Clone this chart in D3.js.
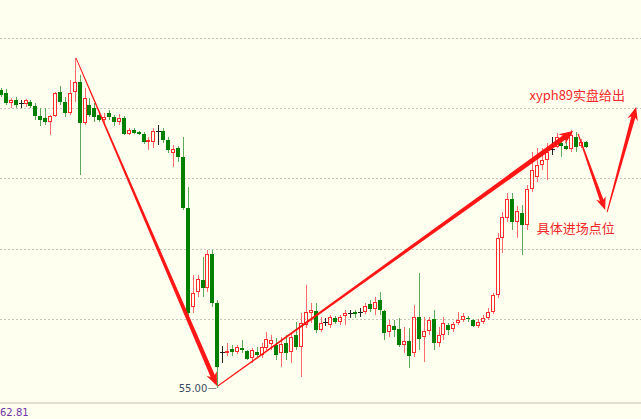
<!DOCTYPE html>
<html lang="zh">
<head>
<meta charset="utf-8">
<script src="https://d3js.org/d3.v7.min.js"></script>
<style>
  body { margin: 0; overflow: hidden; background: #fffff0; }
  svg { display: block; }
</style>
</head>
<body>
<svg id="chart"></svg>
<script>
var width = 641, height = 419;

// candle prices (one entry per bar)
var opens = [57.98,57.95,57.85,57.88,57.85,57.84,57.86,57.82,57.72,57.70,
  57.66,57.72,57.96,57.86,57.75,57.96,58.06,57.65,57.83,57.80,
  57.73,57.68,57.75,57.71,57.66,57.70,57.54,57.58,57.56,57.54,
  57.46,57.46,57.57,57.57,57.48,57.35,57.40,57.31,56.80,55.81,
  55.96,56.08,56.00,56.34,55.85,55.36,55.35,55.39,55.36,55.40,
  55.37,55.30,55.36,55.33,55.40,55.44,55.43,55.35,55.45,55.36,
  55.53,55.41,55.63,55.75,55.77,55.58,55.66,55.63,55.70,55.66,
  55.72,55.75,55.76,55.76,55.76,55.84,55.79,55.88,55.77,55.56,
  55.62,55.59,55.43,55.47,55.35,55.71,55.51,55.57,55.69,55.45,
  55.53,55.63,55.59,55.65,55.68,55.70,55.68,55.62,55.66,55.70,
  55.76,55.93,56.50,56.70,56.89,56.66,56.75,56.63,56.99,57.11,
  57.23,57.28,57.39,57.41,57.45,57.42,57.39,57.51,57.42,57.46];
var closes = [57.93,57.85,57.88,57.83,57.85,57.88,57.82,57.72,57.68,57.66,
  57.72,57.95,57.86,57.75,57.95,58.06,57.65,57.90,57.73,57.71,
  57.68,57.71,57.71,57.66,57.70,57.54,57.58,57.55,57.54,57.46,
  57.48,57.57,57.57,57.48,57.38,57.39,57.31,56.80,55.75,55.95,
  56.09,56.00,56.34,55.85,55.21,55.36,55.37,55.36,55.41,55.38,
  55.29,55.38,55.33,55.41,55.49,55.48,55.33,55.44,55.35,55.51,
  55.41,55.65,55.76,55.78,55.58,55.65,55.66,55.71,55.66,55.71,
  55.75,55.75,55.74,55.76,55.82,55.79,55.86,55.78,55.55,55.63,
  55.58,55.43,55.47,55.32,55.71,55.49,55.57,55.68,55.45,55.53,
  55.65,55.58,55.64,55.68,55.72,55.69,55.62,55.66,55.70,55.76,
  55.93,56.50,56.71,56.89,56.66,56.77,56.63,56.99,57.18,57.23,
  57.28,57.36,57.39,57.51,57.42,57.39,57.53,57.41,57.46,57.41];
var highs = [58.00,57.99,57.90,57.91,57.88,57.89,57.88,57.85,57.80,57.80,
  57.73,57.96,58.02,57.91,58.08,58.30,58.13,58.00,57.90,57.85,
  57.76,57.75,57.78,57.73,57.74,57.72,57.60,57.60,57.57,57.56,
  57.51,57.60,57.63,57.60,57.51,57.43,57.42,57.51,57.01,56.13,
  56.13,56.31,56.38,56.38,55.88,55.42,55.45,55.43,55.43,55.48,
  55.38,55.40,55.41,55.45,55.56,55.53,55.50,55.51,55.53,55.55,
  55.66,55.75,56.03,55.85,55.85,55.71,55.70,55.73,55.72,55.73,
  55.78,55.78,55.78,55.80,55.85,55.88,55.91,55.96,55.78,55.68,
  55.68,55.70,55.61,55.60,55.83,56.15,55.71,55.71,55.78,55.61,
  55.71,55.65,55.66,55.76,55.75,55.72,55.69,55.69,55.73,55.80,
  55.95,56.55,56.76,56.95,56.95,56.82,56.83,57.03,57.36,57.40,
  57.40,57.45,57.51,57.55,57.50,57.46,57.58,57.56,57.49,57.47];
var lows = [57.91,57.83,57.80,57.80,57.80,57.81,57.80,57.68,57.62,57.63,
  57.53,57.71,57.83,57.71,57.73,57.86,57.13,57.63,57.71,57.66,
  57.66,57.65,57.68,57.62,57.63,57.53,57.53,57.54,57.53,57.44,
  57.38,57.40,57.43,57.45,57.35,57.21,57.26,56.78,55.71,55.75,
  55.91,55.91,55.96,55.81,55.00,55.25,55.32,55.32,55.34,55.35,
  55.28,55.25,55.31,55.30,55.38,55.38,55.28,55.21,55.28,55.25,
  55.38,55.11,55.60,55.65,55.55,55.56,55.62,55.60,55.64,55.63,
  55.63,55.70,55.70,55.71,55.74,55.76,55.73,55.73,55.48,55.51,
  55.51,55.41,55.35,55.20,55.31,55.38,55.26,55.53,55.38,55.41,
  55.48,55.53,55.56,55.63,55.66,55.66,55.61,55.60,55.64,55.68,
  55.74,55.90,56.35,56.66,56.58,56.50,56.33,56.58,56.96,57.06,
  57.18,57.08,57.33,57.40,57.31,57.38,57.36,57.36,57.40,57.40];

var gridPrices = [58.50, 57.80, 57.10, 56.39, 55.69];
var lowLabel = "55.00";
var subLabel = "62.81";

// hand-drawn arrows: bar index and price of start / end
var arrowFrom = [[15.26, 58.30], [44.1, 55.02], [117.4, 57.54], [123.3, 56.76]];
var arrowTo   = [[43.94, 55.02], [116.4, 57.57], [122.9, 56.78], [129.2, 57.81]];
var arrowWidth = [[0.8, 4.6], [1, 5], [1, 3.8], [1, 4.2]];
var noteTexts = ["xyph89实盘给出", "具体进场点位"];
var notePos = [[107.5, 57.88], [109, 56.55]];

var svg = d3.select("#chart").attr("width", width).attr("height", height);

var x = d3.scaleLinear().domain([0, 119]).range([1, 586]);
var y = d3.scaleLinear().domain([55.00, 58.50]).range([388, 38]);

svg.append("rect").attr("width", width).attr("height", height).attr("fill", "#fffff0");

// grid
svg.selectAll(".grid").data(gridPrices).join("line")
  .attr("class", "grid")
  .attr("x1", 0).attr("x2", width)
  .attr("y1", d => Math.round(y(d)) + 0.5)
  .attr("y2", d => Math.round(y(d)) + 0.5)
  .attr("stroke", "#c4c4bc")
  .attr("stroke-dasharray", "2,2");

// candles
var bars = d3.range(opens.length).map(function(i) {
  return { i: i, o: opens[i], c: closes[i], h: highs[i], l: lows[i] };
});

function kind(d) { return d.c > d.o ? "up" : (d.c < d.o ? "down" : "flat"); }
var bodyCol = { up: "#ff2a2a", down: "#008000", flat: "#222" };
var wickCol = { up: "#ff6a6a", down: "#5aaa5a", flat: "#222" };

var g = svg.append("g");
bars.forEach(function(d) {
  var cx = Math.round(x(d.i));
  var k = kind(d);
  var top = Math.round(y(Math.max(d.o, d.c)));
  var bot = Math.round(y(Math.min(d.o, d.c)));
  var hi = Math.round(y(d.h)), lo = Math.round(y(d.l));
  // wick above and below the body
  g.append("line").attr("x1", cx + 0.5).attr("x2", cx + 0.5)
    .attr("y1", hi).attr("y2", top).attr("stroke", wickCol[k]);
  g.append("line").attr("x1", cx + 0.5).attr("x2", cx + 0.5)
    .attr("y1", bot).attr("y2", lo).attr("stroke", wickCol[k]);
  if (k === "up") {
    g.append("rect").attr("x", cx - 1.5).attr("y", top + 0.5)
      .attr("width", 3).attr("height", Math.max(bot - top - 1, 1))
      .attr("fill", "none").attr("stroke", bodyCol.up);
  } else if (k === "down") {
    g.append("rect").attr("x", cx - 2).attr("y", top)
      .attr("width", 4).attr("height", Math.max(bot - top, 1))
      .attr("fill", bodyCol.down);
  } else {
    g.append("line").attr("x1", cx - 2).attr("x2", cx + 3)
      .attr("y1", top + 0.5).attr("y2", top + 0.5).attr("stroke", bodyCol.flat);
  }
});

// lowest price tag
var lowIdx = d3.minIndex(lows);
var lx = x(lowIdx), ly = y(lows[lowIdx]);
svg.append("text").attr("x", lx - 10).attr("y", ly + 4)
  .attr("text-anchor", "end")
  .attr("font-family", "DejaVu Sans").attr("font-size", 10)
  .attr("fill", "#3e4c5e").text(lowLabel);
svg.append("line").attr("x1", lx - 9).attr("x2", lx - 1)
  .attr("y1", ly + 0.5).attr("y2", ly + 0.5).attr("stroke", "#8a8a8a");

// tapered arrows
function arrowPath(a, b, w0, w1) {
  var dx = b[0] - a[0], dy = b[1] - a[1];
  var len = Math.sqrt(dx * dx + dy * dy);
  var ux = dx / len, uy = dy / len, nx = -uy, ny = ux;
  var headL = 9 + w1, headW = 2.2 + w1 * 0.75;
  var sx = b[0] - ux * headL * 0.8, sy = b[1] - uy * headL * 0.8;
  var hx = b[0] - ux * headL, hy = b[1] - uy * headL;
  var pts = [
    [a[0] + nx * w0 / 2, a[1] + ny * w0 / 2],
    [sx + nx * w1 / 2, sy + ny * w1 / 2],
    [hx + nx * headW, hy + ny * headW],
    [b[0], b[1]],
    [hx - nx * headW, hy - ny * headW],
    [sx - nx * w1 / 2, sy - ny * w1 / 2],
    [a[0] - nx * w0 / 2, a[1] - ny * w0 / 2]
  ];
  return d3.line()(pts) + "Z";
}

svg.selectAll(".arrow").data(arrowFrom).join("path")
  .attr("class", "arrow")
  .attr("d", function(d, i) {
    var a = [x(d[0]), y(d[1])], b = [x(arrowTo[i][0]), y(arrowTo[i][1])];
    return arrowPath(a, b, arrowWidth[i][0], arrowWidth[i][1]);
  })
  .attr("fill", "#ff0a0a")
  .attr("fill-opacity", 0.95);

// notes
svg.selectAll(".note").data(noteTexts).join("text")
  .attr("class", "note")
  .attr("x", (d, i) => x(notePos[i][0]))
  .attr("y", (d, i) => y(notePos[i][1]))
  .attr("font-family", "Noto Sans CJK SC, sans-serif")
  .attr("font-size", 13)
  .attr("fill", "#f02828")
  .text(d => d);

// lower pane separator and reading
svg.append("rect").attr("x", 0).attr("y", 402).attr("width", width).attr("height", 2)
  .attr("fill", "#e2dfd2");
svg.append("text").attr("x", 0).attr("y", 416)
  .attr("font-family", "DejaVu Sans").attr("font-size", 10)
  .attr("fill", "#7034a8").text(subLabel);
</script>
</body>
</html>
